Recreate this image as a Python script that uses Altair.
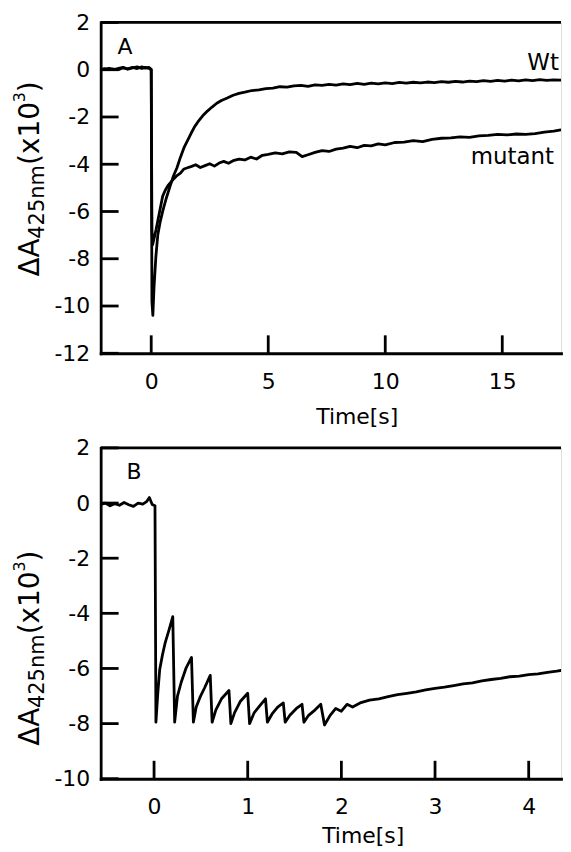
import altair as alt
import pandas as pd

FONT = "DejaVu Sans"

# ---------------- Panel A data ----------------
a_wt_t = [-2.16, -2.0, -1.8, -1.6, -1.4, -1.2, -1.0, -0.8, -0.6, -0.4, -0.25, -0.1, 0.0,
          0.03, 0.07, 0.12, 0.2, 0.28, 0.38, 0.5, 0.64, 0.8, 0.95, 1.1, 1.25, 1.4, 1.55, 1.7,
          1.85, 2.0, 2.2, 2.4, 2.6, 2.8, 3.0, 3.25, 3.5, 3.75, 4.0, 4.3, 4.6, 4.9, 5.2, 5.5,
          5.8, 6.1, 6.4, 6.7, 7.0, 7.3, 7.6, 7.9, 8.2, 8.5, 8.8, 9.1, 9.4, 9.7, 10.0, 10.3,
          10.6, 10.9, 11.2, 11.5, 11.8, 12.1, 12.4, 12.7, 13.0, 13.3, 13.6, 13.9, 14.2, 14.5,
          14.8, 15.1, 15.4, 15.7, 16.0, 16.3, 16.6, 16.9, 17.2, 17.5, 17.85]
a_wt_v = [0.0, 0.05, 0.02, 0.0, 0.06, 0.1, 0.02, 0.08, 0.12, 0.05, 0.1, 0.06, 0.0,
          -9.8, -10.4, -9.2, -7.9, -7.0, -6.45, -5.95, -5.45, -4.95, -4.5, -4.15, -3.7, -3.3,
          -3.0, -2.7, -2.42, -2.2, -1.95, -1.75, -1.58, -1.42, -1.3, -1.2, -1.08, -1.0, -0.95,
          -0.88, -0.85, -0.8, -0.78, -0.72, -0.74, -0.68, -0.66, -0.7, -0.64, -0.66, -0.62,
          -0.65, -0.6, -0.63, -0.58, -0.62, -0.57, -0.6, -0.56, -0.59, -0.54, -0.57, -0.53,
          -0.56, -0.52, -0.55, -0.5, -0.53, -0.49, -0.52, -0.48, -0.5, -0.46, -0.49, -0.45,
          -0.48, -0.44, -0.47, -0.43, -0.46, -0.42, -0.45, -0.43, -0.44, -0.4]

a_mut_t = [-2.16, -2.0, -1.8, -1.6, -1.4, -1.2, -1.0, -0.8, -0.6, -0.4, -0.25, -0.1, 0.0,
           0.03, 0.06, 0.12, 0.21, 0.3, 0.4, 0.49, 0.6, 0.72, 0.85, 0.98, 1.1, 1.25, 1.4,
           1.55, 1.7, 1.9, 2.1, 2.3, 2.5, 2.7, 2.9, 3.1, 3.3, 3.5, 3.75, 4.0, 4.25, 4.5, 4.75,
           5.0, 5.3, 5.6, 5.9, 6.2, 6.45, 6.7, 7.0, 7.3, 7.6, 7.9, 8.2, 8.5, 8.8, 9.1, 9.4,
           9.7, 10.0, 10.4, 10.8, 11.2, 11.6, 12.0, 12.4, 12.8, 13.2, 13.6, 14.0, 14.4, 14.8,
           15.2, 15.6, 16.0, 16.4, 16.8, 17.2, 17.5, 17.85]
a_mut_v = [0.02, 0.0, 0.06, 0.03, 0.0, 0.08, 0.04, 0.1, 0.05, 0.12, 0.07, 0.1, 0.02,
           -6.8, -7.4, -7.15, -6.75, -6.3, -5.8, -5.35, -5.1, -4.9, -4.75, -4.6, -4.48, -4.38,
           -4.2, -4.15, -4.1, -4.02, -4.14, -4.06, -3.98, -4.08, -3.95, -3.88, -3.96, -3.85,
           -3.78, -3.82, -3.7, -3.78, -3.62, -3.58, -3.52, -3.56, -3.48, -3.5, -3.68, -3.6,
           -3.5, -3.42, -3.46, -3.36, -3.32, -3.24, -3.3, -3.2, -3.22, -3.14, -3.18, -3.08,
           -3.06, -3.0, -3.04, -2.95, -2.9, -2.88, -2.84, -2.86, -2.8, -2.78, -2.74, -2.76,
           -2.72, -2.74, -2.7, -2.64, -2.6, -2.55, -2.46]

# ---------------- Panel B data ----------------
b_t = [-0.57, -0.52, -0.47, -0.42, -0.37, -0.32, -0.27, -0.22, -0.17, -0.12, -0.08, -0.05,
       -0.02, 0.01, 0.02, 0.04, 0.06, 0.09, 0.12, 0.16, 0.2, 0.22, 0.25, 0.29, 0.34, 0.4,
       0.42, 0.45, 0.49, 0.54, 0.6, 0.62, 0.66, 0.72, 0.8, 0.82, 0.86, 0.92, 1.0, 1.02, 1.07,
       1.13, 1.19, 1.21, 1.26, 1.32, 1.38, 1.4, 1.45, 1.52, 1.58, 1.6, 1.65, 1.72, 1.78,
       1.82, 1.88, 1.94, 2.0, 2.06, 2.12, 2.2, 2.3, 2.4, 2.5, 2.6, 2.7, 2.8, 2.9, 3.0, 3.1,
       3.2, 3.3, 3.4, 3.5, 3.6, 3.7, 3.8, 3.9, 4.0, 4.1, 4.2, 4.3, 4.43]
b_v = [-0.05, 0.0, -0.1, -0.02, -0.08, 0.02, -0.06, -0.12, 0.0, -0.04, 0.05, 0.2, -0.05,
       -0.1, -7.95, -6.9, -6.05, -5.5, -5.05, -4.6, -4.12, -7.95, -7.0, -6.5, -6.0, -5.6,
       -7.95, -7.4, -7.05, -6.7, -6.25, -7.95, -7.5, -7.1, -6.8, -8.0, -7.6, -7.2, -6.9,
       -8.0, -7.6, -7.35, -7.1, -7.95, -7.65, -7.4, -7.25, -7.95, -7.7, -7.45, -7.3, -7.95,
       -7.7, -7.5, -7.3, -8.05, -7.7, -7.45, -7.55, -7.3, -7.4, -7.25, -7.15, -7.1, -7.02,
       -6.95, -6.9, -6.85, -6.78, -6.72, -6.68, -6.62, -6.56, -6.52, -6.45, -6.4, -6.36,
       -6.3, -6.28, -6.22, -6.2, -6.14, -6.1, -6.02]

# ---------------- axes ----------------
a_xticks = [0, 5, 10, 15]
a_yticks = [-12, -10, -8, -6, -4, -2, 0, 2]
b_xticks = [0, 1, 2, 3, 4]
b_yticks = [-10, -8, -6, -4, -2, 0, 2]
a_xdomain = [-2.16, 17.51]
a_ydomain = [-12, 2]
b_xdomain = [-0.57, 4.345]
b_ydomain = [-10, 2]

W = 462
H = 332
LW = 2.8
TICK = 18
LABEL_EXPR = "datum.value < 0 ? '-' + abs(datum.value) : '' + datum.value"


def frame(series):
    rows = []
    for name, ts, vs in series:
        for t, v in zip(ts, vs):
            rows.append({"t": t, "v": v, "s": name, "i": len(rows)})
    return pd.DataFrame(rows)


def text_layer(txt, x, y, size, angle=0, align="left"):
    kw = dict(font=FONT, fontSize=size, color="black", align=align, baseline="alphabetic")
    if angle:
        kw["angle"] = angle
    return alt.Chart(pd.DataFrame({"s": [txt]})).mark_text(**kw).encode(
        text="s:N", x=alt.value(x), y=alt.value(y))


def panel(df, xdom, ydom, xticks, yticks, title_x, title_y, letter, letter_pos,
          title_bottom, extra):
    xs = alt.Scale(domain=xdom, nice=False, zero=False)
    ys = alt.Scale(domain=ydom, nice=False, zero=False)
    xaxis = alt.Axis(
        values=xticks, ticks=False, grid=False, labelFont=FONT, labelFontSize=22,
        labelColor="black", labelPadding=18, labelExpr=LABEL_EXPR, domainColor="black",
        domainWidth=LW, domainCap="square", title="Time[s]", titleFont=FONT,
        titleFontSize=22, titleFontWeight="normal", titleColor="black", titleX=title_x,
        titleY=title_y, titleBaseline="alphabetic", titleAlign="center", labelFlush=False)
    yaxis = alt.Axis(
        values=yticks, ticks=False, grid=False, labelFont=FONT, labelFontSize=22,
        labelColor="black", labelPadding=11, labelExpr=LABEL_EXPR, domainColor="black",
        domainWidth=LW, domainCap="square", title=None)
    X = lambda: alt.X("t:Q", scale=xs, axis=xaxis)
    Y = lambda: alt.Y("v:Q", scale=ys, axis=yaxis)
    lines = alt.Chart(df).mark_line(color="black", strokeWidth=2.8, clip=True,
                                    strokeJoin="round").encode(
        x=X(), y=Y(), detail="s:N", order="i:Q")
    xt = alt.Chart(pd.DataFrame({"t": xticks})).mark_rule(color="black", strokeWidth=LW).encode(
        x=X(), y=alt.value(H), y2=alt.value(H - TICK))
    yt = alt.Chart(pd.DataFrame({"v": yticks})).mark_rule(color="black", strokeWidth=LW).encode(
        y=Y(), x=alt.value(0), x2=alt.value(TICK))
    top = alt.Chart(pd.DataFrame({"k": [0]})).mark_rule(color="black", strokeWidth=LW).encode(
        y=alt.value(0), x=alt.value(0), x2=alt.value(W))
    layers = [lines, xt, yt, top]
    layers.append(text_layer(letter, letter_pos[0], letter_pos[1], 22))
    # y-axis title  ΔA_425nm (x10^3)
    y0 = title_bottom
    layers.append(text_layer("ΔA", -62, y0, 28, angle=270))
    layers.append(text_layer("425nm", -57, y0 - 38, 21, angle=270))
    layers.append(text_layer("(x10", -62, y0 - 38 - 74, 28, angle=270))
    layers.append(text_layer("3", -76, y0 - 38 - 74 - 63, 16, angle=270))
    layers.append(text_layer(")", -62, y0 - 38 - 74 - 63 - 10, 28, angle=270))
    layers += extra
    return alt.layer(*layers).properties(width=W, height=H)


dfA = frame([("Wt", a_wt_t, a_wt_v), ("mutant", a_mut_t, a_mut_v)])
dfB = frame([("B", b_t, b_v)])

panelA = panel(dfA, a_xdomain, a_ydomain, a_xticks, a_yticks, 257, 70, "A", (17, 32), 255,
               [text_layer("Wt", 460, 48, 23, align="right"),
                text_layer("mutant", 455, 142, 23, align="right")])
panelB = panel(dfB, b_xdomain, b_ydomain, b_xticks, b_yticks, 263, 64, "B", (26, 31), 299, [])

chart = alt.vconcat(panelA, panelB, spacing=8).properties(
    padding={"left": 3, "top": 1, "right": 0, "bottom": 0}
).configure_view(stroke=None).configure(font=FONT)

chart.save("out.html", embed_options={"renderer": "svg", "actions": False})
